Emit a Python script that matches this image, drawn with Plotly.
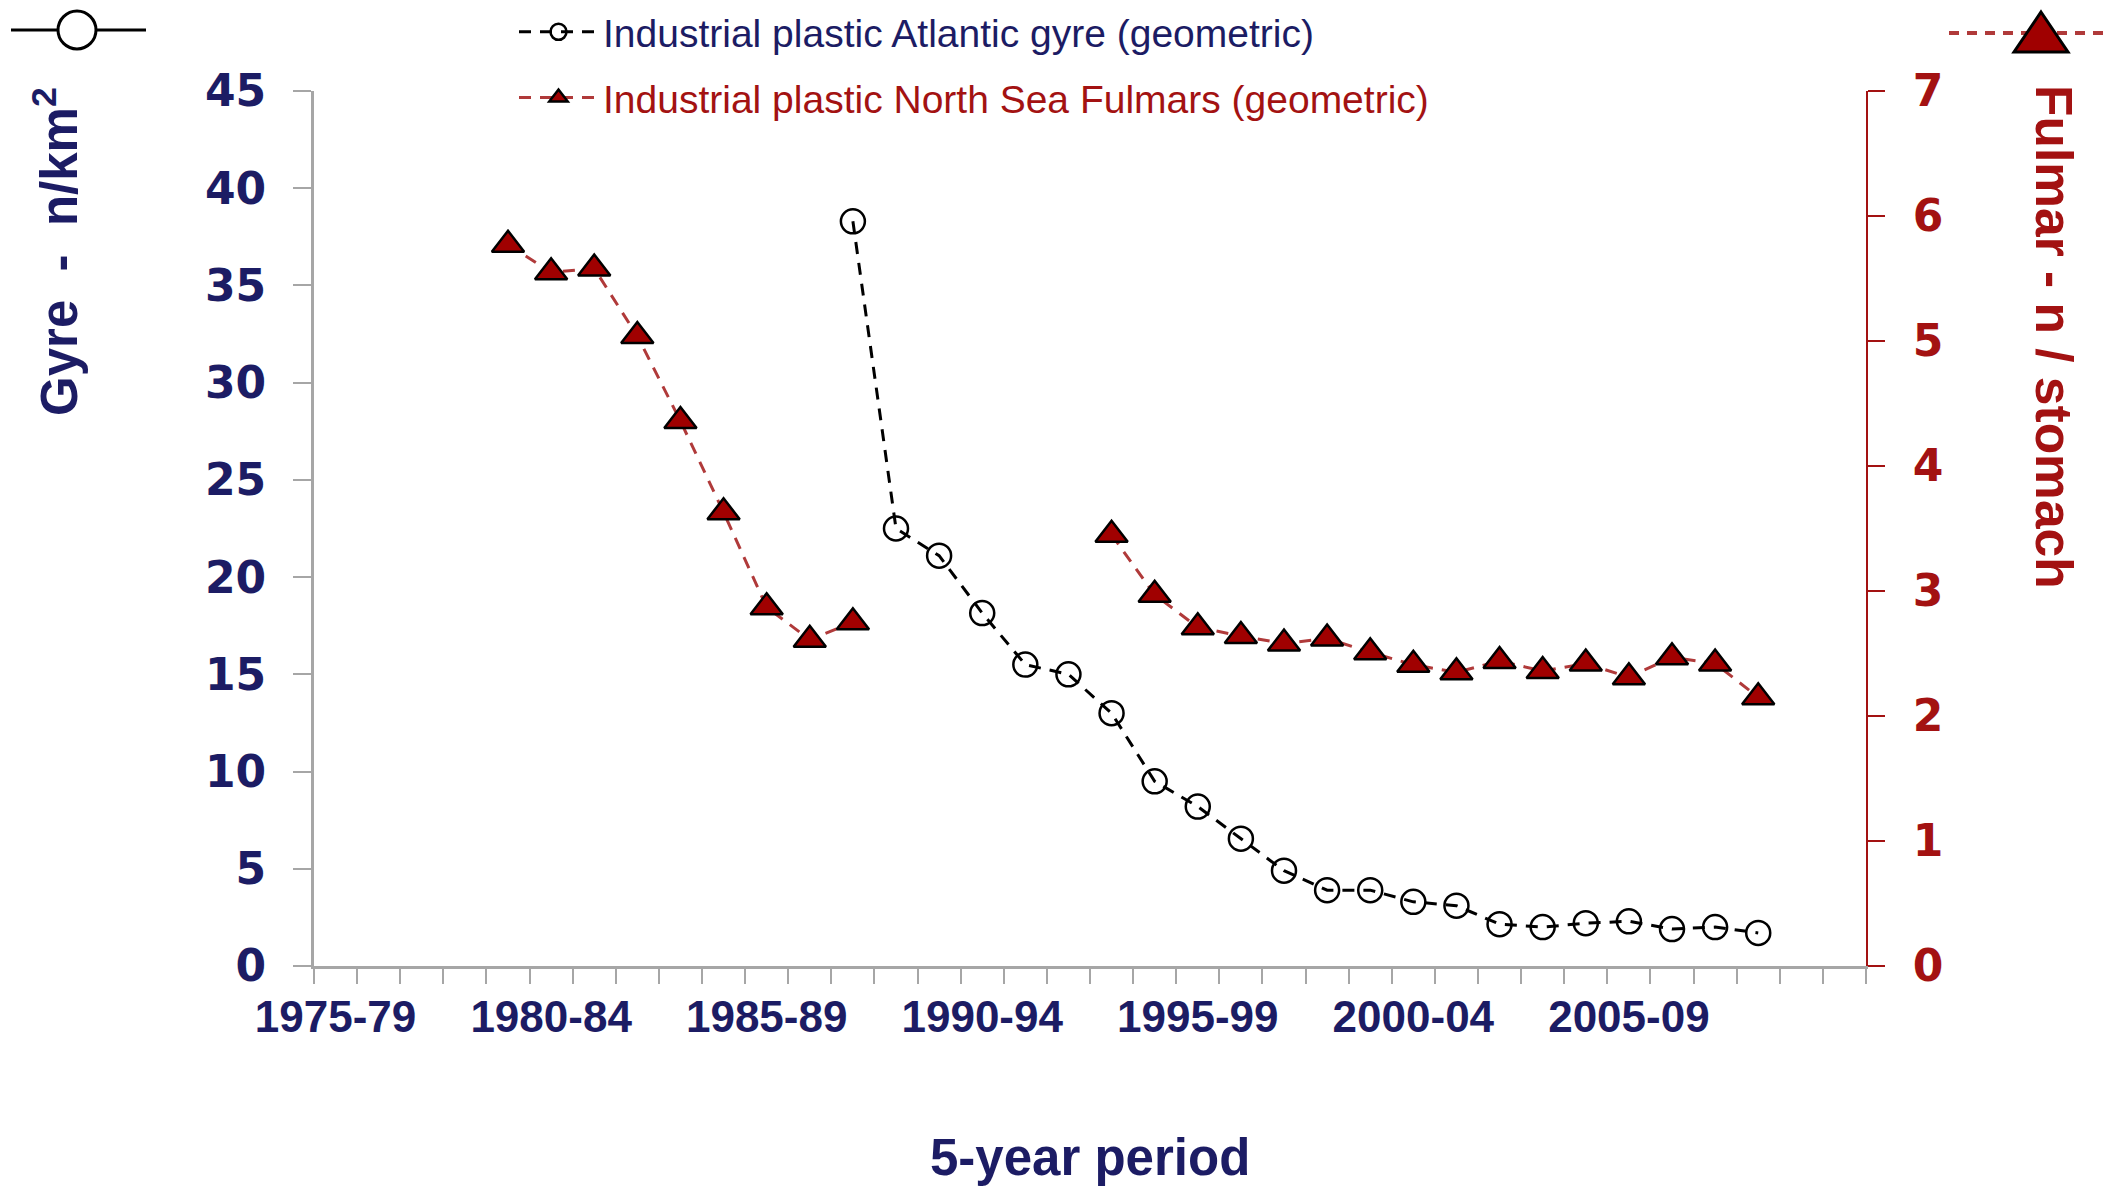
import plotly.graph_objects as go

# ---------------- data ----------------
periods = ["1975-79", "1976-80", "1977-81", "1978-82", "1979-83", "1980-84", "1981-85",
           "1982-86", "1983-87", "1984-88", "1985-89", "1986-90", "1987-91", "1988-92",
           "1989-93", "1990-94", "1991-95", "1992-96", "1993-97", "1994-98", "1995-99",
           "1996-00", "1997-01", "1998-02", "1999-03", "2000-04", "2001-05", "2002-06",
           "2003-07", "2004-08", "2005-09", "2006-10", "2007-11", "2008-12", "2009-13",
           "2010-14"]

gyre = [None, None, None, None, None, None, None, None, None, None, None, None,
        38.3, 22.5, 21.1, 18.15, 15.5, 15.0, 13.0, 9.5, 8.2, 6.55, 4.9, 3.9, 3.9,
        3.3, 3.1, 2.15, 2.0, 2.2, 2.3, 1.9, 2.0, 1.7, None, None]

fulmar = [None, None, None, None, 5.77, 5.55, 5.58, 5.04, 4.36, 3.63, 2.87, 2.61,
          2.75, None, None, None, None, None, 3.45, 2.97, 2.71, 2.64, 2.58, 2.62,
          2.51, 2.41, 2.35, 2.44, 2.36, 2.42, 2.31, 2.47, 2.42, 2.15, None, None]

tick_labels = ["1975-79", "1980-84", "1985-89", "1990-94", "1995-99", "2000-04", "2005-09"]

gyre_name = "Industrial plastic Atlantic gyre (geometric)"
fulmar_name = "Industrial plastic North Sea Fulmars (geometric)"

# ---------------- style ----------------
NAVY = "#1c1c64"
RED = "#a31212"
LINE_RED = "#b03a3a"
GRAY = "#a6a6a6"

PAGE_W, PAGE_H = 2122, 1187
BODY = 8                      # default page margin around the figure div
W, H = PAGE_W - BODY, PAGE_H - BODY
# plot area in page pixels
PL, PR, PT, PB = 314, 1866, 91, 966
ML, MT = PL - BODY, PT - BODY
MR, MB = PAGE_W - PR, PAGE_H - PB
PW, PH = PR - PL, PB - PT

def px(x):
    return (x - PL) / PW

def py(y):
    return (PB - y) / PH

x_idx = list(range(len(periods)))
tickvals = [periods.index(t) for t in tick_labels]

fig = go.Figure()
fig.add_trace(go.Scatter(
    x=x_idx, y=gyre, mode="lines+markers",
    name=f"<span style='color:{NAVY}'>{gyre_name}</span>",
    legendgroup="g",
    line=dict(color="black", width=3, dash="12px,9px"),
    marker=dict(symbol="circle-open", size=24, color="black", line=dict(width=2.5)),
    connectgaps=False,
))
fig.add_trace(go.Scatter(
    x=x_idx, y=fulmar, mode="lines+markers", yaxis="y2",
    name=f"<span style='color:{RED}'>{fulmar_name}</span>",
    legendgroup="f",
    line=dict(color=LINE_RED, width=3, dash="12px,9px"),
    marker=dict(symbol="triangle-up", size=28, color="#a00000",
                line=dict(color="black", width=2.5)),
    connectgaps=False,
))

fig.update_layout(
    width=W, height=H,
    margin=dict(l=ML, r=MR, t=MT, b=MB, autoexpand=False),
    paper_bgcolor="white", plot_bgcolor="white",
    font=dict(family="Liberation Sans, Arial, sans-serif"),
    showlegend=True,
    legend=dict(
        x=px(514), y=py(0), xanchor="left", yanchor="top",
        font=dict(size=39, family="Liberation Sans, Arial, sans-serif"),
        bgcolor="rgba(0,0,0,0)", tracegroupgap=12, traceorder="grouped",
        itemwidth=79,
    ),
    xaxis=dict(
        range=[-0.5, len(periods) - 0.5],
        tickmode="array", tickvals=tickvals, ticktext=tick_labels,
        ticks="", showline=True, linecolor=GRAY, linewidth=3,
        showgrid=False, zeroline=False,
        tickfont=dict(size=44, color=NAVY, weight="bold",
                      family="Liberation Sans, Arial, sans-serif"),
        ticklabelstandoff=10,
        minor=dict(ticks="outside", tick0=-0.5, dtick=1, ticklen=15,
                   tickcolor=GRAY, tickwidth=2, showgrid=False),
    ),
    yaxis=dict(
        range=[0, 45], dtick=5, tick0=0,
        ticks="outside", ticklen=18, tickcolor=GRAY, tickwidth=2,
        showline=True, linecolor=GRAY, linewidth=3,
        showgrid=False, zeroline=False,
        tickfont=dict(size=44, color=NAVY, weight="bold",
                      family="DejaVu Sans, sans-serif"),
        ticklabelstandoff=18,
    ),
    yaxis2=dict(
        range=[0, 7], dtick=1, tick0=0, overlaying="y", side="right",
        ticks="outside", ticklen=17, tickcolor=RED, tickwidth=2,
        showline=True, linecolor=RED, linewidth=2,
        showgrid=False, zeroline=False,
        tickfont=dict(size=44, color=RED, weight="bold",
                      family="DejaVu Sans, sans-serif"),
        ticklabelstandoff=19,
    ),
    annotations=[
        dict(text="Gyre\u00a0\u00a0-\u00a0\u00a0n/km<sup>2</sup>", xref="paper", yref="paper",
             x=px(56), y=py(252), xanchor="center", yanchor="middle",
             textangle=-90, showarrow=False,
             font=dict(size=51, color=NAVY, weight="bold",
                       family="Liberation Sans, Arial, sans-serif")),
        dict(text="Fulmar - n / stomach", xref="paper", yref="paper",
             x=px(2054), y=py(337), xanchor="center", yanchor="middle",
             textangle=90, showarrow=False,
             font=dict(size=51.5, color=RED, weight="bold",
                       family="Liberation Sans, Arial, sans-serif")),
        dict(text="5-year period", xref="paper", yref="paper",
             x=0.5, y=py(1157), xanchor="center", yanchor="middle",
             showarrow=False,
             font=dict(size=51, color=NAVY, weight="bold",
                       family="Liberation Sans, Arial, sans-serif")),
    ],
    shapes=[
        # axis key, top left (gyre)
        dict(type="line", xref="paper", yref="paper",
             x0=px(11), x1=px(146), y0=py(30), y1=py(30),
             line=dict(color="black", width=3)),
        dict(type="circle", xref="paper", yref="paper",
             x0=px(58), x1=px(96), y0=py(49), y1=py(11),
             fillcolor="white", line=dict(color="black", width=3)),
        # axis key, top right (fulmar)
        dict(type="line", xref="paper", yref="paper",
             x0=px(1949), x1=px(2111), y0=py(33), y1=py(33),
             line=dict(color=LINE_RED, width=4, dash="10px,8px")),
        dict(type="path", xref="paper", yref="paper",
             path=f"M {px(2041)},{py(12)} L {px(2068)},{py(52)} L {px(2014)},{py(52)} Z",
             fillcolor="#a00000", line=dict(color="black", width=3)),
    ],
)

fig.write_html("out.html")
